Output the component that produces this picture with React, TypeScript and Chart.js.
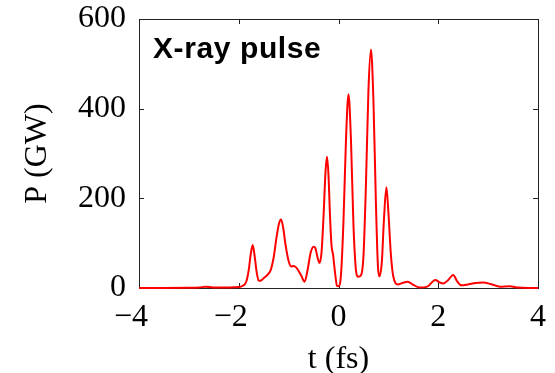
import React, { useEffect, useRef } from "react";
import { Chart, registerables } from "chart.js";

Chart.register(...registerables);

const timeFs: number[] = [
  -4.0, -3.5, -3.0, -2.8, -2.66, -2.52, -2.2, -2.0, -1.92, -1.85, -1.8, -1.76, -1.72, -1.68, -1.64, -1.6,
  -1.55, -1.48, -1.42, -1.36, -1.3, -1.24, -1.19, -1.15, -1.11, -1.06, -1.0, -0.95, -0.9, -0.85, -0.8,
  -0.74, -0.68, -0.62, -0.56, -0.5, -0.46, -0.42, -0.38, -0.34, -0.3, -0.26, -0.23, -0.2, -0.17, -0.14,
  -0.11, -0.07, -0.03, 0.0, 0.05, 0.1, 0.15, 0.2, 0.25, 0.3, 0.35, 0.39, 0.45, 0.5, 0.55, 0.6, 0.65, 0.7,
  0.75, 0.79, 0.82, 0.87, 0.91, 0.96, 1.0, 1.05, 1.1, 1.19, 1.28, 1.39, 1.5, 1.63, 1.78, 1.94, 2.02, 2.1,
  2.2, 2.3, 2.38, 2.46, 2.6, 2.75, 2.9, 3.05, 3.24, 3.43, 3.6, 3.8, 4.0,
];

const powerGW: number[] = [
  0, 0, 0.5, 1, 3, 1, 1, 2, 5, 14, 40, 75, 96, 70, 35, 16,
  17, 24, 30, 40, 68, 115, 145, 153, 135, 95, 60, 48, 49, 46, 38,
  26, 14, 40, 78, 92, 88, 68, 56, 80, 160, 260, 293, 250, 160, 95,
  75, 35, 5, 4, 30, 150, 330, 432, 330, 140, 40, 25, 28, 70, 230, 440, 532, 420,
  190, 50, 26, 60, 150, 225, 170, 75, 25, 8, 11, 14, 7, 1, 3, 18, 13, 10,
  18, 29, 15, 6, 8, 11, 12, 9, 3, 4, 1, 0, 0,
];

const xTickValues: number[] = [-4, -2, 0, 2, 4];
const xTickLabels: string[] = ["\u22124\u2002", "\u22122\u2002", "0", "2", "4"];
const yTickValues: number[] = [0, 200, 400, 600];
const yTickLabels: string[] = ["0", "200", "400", "600"];

const xTitle = "t (fs)";
const yTitle = "P (GW)";
const panelLabel = "X-ray pulse";

const SERIF = "'Liberation Serif', 'Times New Roman', serif";
const SANS = "'Liberation Sans', Arial, sans-serif";

const framePlugin = {
  id: "frame",
  beforeDatasetsDraw(chart: any) {
    const { ctx, chartArea: a, scales } = chart;
    const x = scales.x;
    const y = scales.y;
    ctx.save();
    ctx.strokeStyle = "#222";
    ctx.lineWidth = 1;
    ctx.strokeRect(Math.round(a.left) + 0.5, Math.round(a.top) + 0.5, Math.round(a.right - a.left), Math.round(a.bottom - a.top));
    const len = 5;
    ctx.beginPath();
    xTickValues.forEach((v) => {
      const px = Math.round(x.getPixelForValue(v)) + 0.5;
      ctx.moveTo(px, a.bottom);
      ctx.lineTo(px, a.bottom - len);
      ctx.moveTo(px, a.top);
      ctx.lineTo(px, a.top + len);
    });
    yTickValues.forEach((v) => {
      const py = Math.round(y.getPixelForValue(v)) + 0.5;
      ctx.moveTo(a.left, py);
      ctx.lineTo(a.left + len, py);
      ctx.moveTo(a.right, py);
      ctx.lineTo(a.right - len, py);
    });
    ctx.stroke();
    ctx.restore();
  },
  afterDatasetsDraw(chart: any) {
    const { ctx, chartArea: a } = chart;
    ctx.save();
    ctx.fillStyle = "#000";
    ctx.font = `bold 30px ${SANS}`;
    (ctx as any).letterSpacing = "0.6px";
    ctx.textBaseline = "alphabetic";
    ctx.textAlign = "left";
    ctx.fillText(panelLabel, a.left + 14, a.top + 39);
    ctx.restore();
  },
};

export default function App() {
  const canvasRef = useRef<HTMLCanvasElement | null>(null);

  useEffect(() => {
    const canvas = canvasRef.current;
    if (!canvas) return;
    const chart = new Chart(canvas, {
      type: "line",
      data: {
        datasets: [
          {
            data: timeFs.map((t, i) => ({ x: t, y: powerGW[i] })),
            borderColor: "#ff0000",
            borderWidth: 2,
            pointRadius: 0,
            fill: false,
            cubicInterpolationMode: "monotone",
            clip: false as any,
          },
        ],
      },
      options: {
        responsive: false,
        animation: false,
        devicePixelRatio: 1,
        layout: { padding: { left: 0, top: 19, right: 17, bottom: 0 } },
        plugins: { legend: { display: false }, tooltip: { enabled: false } },
        scales: {
          x: {
            type: "linear",
            min: -4,
            max: 4,
            afterBuildTicks: (scale: any) => {
              scale.ticks = xTickValues.map((v) => ({ value: v }));
            },
            afterFit: (scale: any) => {
              scale.height = 85;
              scale.paddingLeft = 0;
              scale.paddingRight = 0;
            },
            grid: { display: false, drawTicks: false },
            border: { display: false },
            ticks: {
              padding: 10,
              color: "#000",
              font: { family: SERIF, size: 32 },
              maxRotation: 0,
              autoSkip: false,
              callback: (v: any) => {
                const i = xTickValues.indexOf(Number(v));
                return i >= 0 ? xTickLabels[i] : "";
              },
            },
            title: {
              display: true,
              text: xTitle,
              color: "#000",
              font: { family: SERIF, size: 32, lineHeight: 0.8 },
              padding: { top: 0, bottom: 1 },
            },
          },
          y: {
            type: "linear",
            min: 0,
            max: 600,
            afterBuildTicks: (scale: any) => {
              scale.ticks = yTickValues.map((v) => ({ value: v }));
            },
            afterFit: (scale: any) => {
              scale.width = 139;
              scale.paddingTop = 0;
              scale.paddingBottom = 0;
            },
            grid: { display: false, drawTicks: false },
            border: { display: false },
            ticks: {
              padding: 13,
              color: "#000",
              font: { family: SERIF, size: 32 },
              autoSkip: false,
              callback: (v: any) => {
                const i = yTickValues.indexOf(Number(v));
                return i >= 0 ? yTickLabels[i] : "";
              },
            },
            title: {
              display: true,
              text: yTitle,
              color: "#000",
              font: { family: SERIF, size: 32, lineHeight: 1 },
              padding: { top: 22, bottom: 0 },
            },
          },
        },
      },
      plugins: [framePlugin],
    });
    return () => chart.destroy();
  }, []);

  return (
    <div style={{ position: "fixed", left: 0, top: 0, width: 555, height: 373, background: "#fff" }}>
      <canvas ref={canvasRef} width={555} height={373} style={{ display: "block" }} />
    </div>
  );
}
